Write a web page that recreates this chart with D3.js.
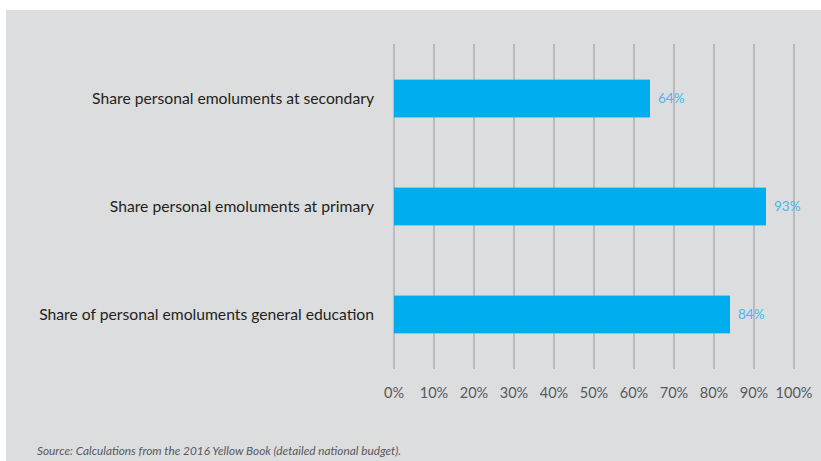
<!DOCTYPE html>
<html>
<head>
<meta charset="utf-8">
<script src="https://cdn.jsdelivr.net/npm/d3@7"></script>
<style>
  body { margin: 0; background: #fff; }
  text { font-family: Lato, "Noto Sans", sans-serif; }
</style>
</head>
<body>
<div id="chart"></div>
<script>
var width = 821;
var height = 461;

// data
var categories = [
    "Share personal emoluments at secondary",
    "Share personal emoluments at primary",
    "Share of personal emoluments general education"
];
var values = [0.64, 0.93, 0.84];
var tickValues = [0, 0.1, 0.2, 0.3, 0.4, 0.5, 0.6, 0.7, 0.8, 0.9, 1.0];
var source = "Source: Calculations from the 2016 Yellow Book (detailed national budget).";

var svg = d3.select("#chart").append("svg")
    .attr("width", width)
    .attr("height", height);

// grey panel
svg.append("rect")
    .attr("x", 6)
    .attr("y", 10)
    .attr("width", width - 6)
    .attr("height", height - 10)
    .attr("fill", "#dcdddf");

var x = d3.scaleLinear()
    .domain([0, 1])
    .range([394, 794]);

var y = d3.scaleBand()
    .domain(categories)
    .range([44, 369])
    .paddingInner(0.65)
    .paddingOuter(0.33);

// gridlines
svg.append("g")
    .selectAll("line")
    .data(tickValues)
    .enter().append("line")
    .attr("x1", x)
    .attr("x2", x)
    .attr("y1", 44)
    .attr("y2", 369)
    .attr("stroke", "#aeafb1")
    .attr("stroke-width", 1.5);

// tick labels
svg.append("g")
    .selectAll("text")
    .data(tickValues)
    .enter().append("text")
    .attr("x", x)
    .attr("y", 398)
    .attr("text-anchor", "middle")
    .attr("font-size", 14.5)
    .attr("fill", "#58595b")
    .text(d3.format(".0%"));

// bars
svg.append("g")
    .selectAll("rect")
    .data(values)
    .enter().append("rect")
    .attr("x", x(0))
    .attr("y", function (d, i) { return y(categories[i]); })
    .attr("width", function (d) { return x(d) - x(0); })
    .attr("height", y.bandwidth())
    .attr("fill", "#00aeef");

// value labels
svg.append("g")
    .selectAll("text")
    .data(values)
    .enter().append("text")
    .attr("x", function (d) { return x(d) + 8; })
    .attr("y", function (d, i) { return y(categories[i]) + y.bandwidth() / 2; })
    .attr("dy", "0.35em")
    .attr("font-size", 13.5)
    .attr("fill", "#45b9e8")
    .text(d3.format(".0%"));

// category labels
svg.append("g")
    .selectAll("text")
    .data(categories)
    .enter().append("text")
    .attr("x", 374)
    .attr("y", function (d) { return y(d) + y.bandwidth() / 2; })
    .attr("dy", "0.35em")
    .attr("text-anchor", "end")
    .attr("font-size", 15.7)
    .attr("fill", "#231f20")
    .text(function (d) { return d; });

svg.append("text")
    .attr("x", 37)
    .attr("y", 455)
    .attr("font-size", 11.8)
    .attr("font-style", "italic")
    .attr("fill", "#58595b")
    .text(source);
</script>
</body>
</html>
